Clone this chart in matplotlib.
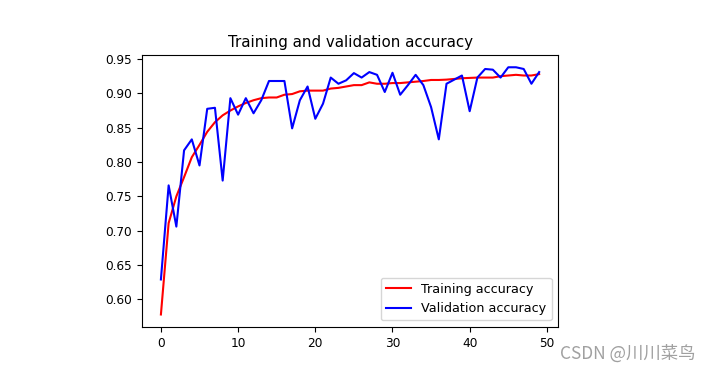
import matplotlib.pyplot as plt
import numpy as np

# accuracy per epoch
acc = [0.578, 0.711, 0.750, 0.778, 0.807, 0.825, 0.844, 0.858, 0.868, 0.875,
       0.881, 0.886, 0.890, 0.893, 0.894, 0.894, 0.898, 0.899, 0.903, 0.904,
       0.904, 0.904, 0.907, 0.908, 0.910, 0.912, 0.912, 0.916, 0.914, 0.914,
       0.915, 0.915, 0.916, 0.917, 0.918, 0.9195, 0.9195, 0.920, 0.921, 0.922,
       0.9225, 0.923, 0.923, 0.923, 0.925, 0.926, 0.927, 0.926, 0.926, 0.928]
val_acc = [0.629, 0.766, 0.706, 0.817, 0.833, 0.795, 0.8775, 0.879, 0.773, 0.893,
           0.869, 0.893, 0.871, 0.890, 0.918, 0.918, 0.918, 0.849, 0.890, 0.910,
           0.863, 0.885, 0.923, 0.914, 0.919, 0.9295, 0.923, 0.931, 0.927, 0.902,
           0.930, 0.898, 0.912, 0.927, 0.912, 0.880, 0.833, 0.914, 0.920, 0.926,
           0.874, 0.923, 0.9355, 0.9345, 0.923, 0.938, 0.938, 0.9355, 0.914, 0.931]
epochs = range(len(acc))

fig = plt.figure(figsize=(7.1, 3.71), dpi=100)
ax = fig.add_axes([0.2, 0.119, 0.586, 0.733])
ax.plot(epochs, acc, 'r', label='Training accuracy', linewidth=1.5)
ax.plot(epochs, val_acc, 'b', label='Validation accuracy', linewidth=1.5)
ax.set_title('Training and validation accuracy', fontsize=10.8)
ax.set_yticks(np.arange(0.60, 0.951, 0.05))
ax.tick_params(labelsize=8.7)
ax.legend(loc='lower right', fontsize=9.2)

# watermark
fig.text(0.979, 0.048, 'CSDN @川川菜鸟', ha='right', va='center', fontsize=12.5,
         color='#a0a0a0', family=['Noto Sans CJK SC', 'DejaVu Sans'])

fig.savefig('out.png')
